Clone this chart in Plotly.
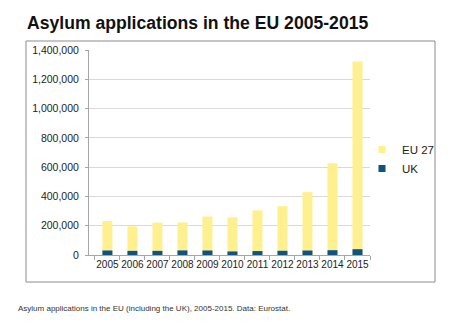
import plotly.graph_objects as go

years = ["2005", "2006", "2007", "2008", "2009", "2010", "2011", "2012", "2013", "2014", "2015"]
eu27 = [232000, 196000, 221000, 222000, 263000, 257000, 305000, 333000, 429000, 626000, 1322000]
uk = [30800, 28300, 28300, 31300, 30700, 24400, 26900, 28800, 30600, 32800, 39700]
series_names = ["EU 27", "UK"]
series_colors = ["#FFF08F", "#0F5382"]

W, H = 462, 327
def px(x): return x / W
def py(y): return (H - y) / H

fig = go.Figure()
for name, vals, col in zip(series_names, [eu27, uk], series_colors):
    fig.add_trace(go.Bar(x=years, y=vals, name=name, marker_color=col,
                         marker_line_width=0, showlegend=False))
# legend entries with small square markers
for name, col in zip(series_names, series_colors):
    fig.add_trace(go.Scatter(x=[years[0]], y=[None], name=name, mode="markers",
                             marker=dict(symbol="square", size=7, color=col), showlegend=True))

fam = "Liberation Sans, Arial, sans-serif"
fig.update_layout(
    width=W, height=H, margin=dict(l=0, r=0, t=0, b=0, autoexpand=False),
    paper_bgcolor="white", plot_bgcolor="white",
    barmode="overlay", bargap=0.6,
    showlegend=True,
    legend=dict(x=px(362), y=py(159), xanchor="left", yanchor="middle",
                font=dict(family=fam, size=11.5, color="#222"),
                tracegroupgap=0, itemwidth=30, bgcolor="rgba(0,0,0,0)"),
    xaxis=dict(domain=[px(89), px(370)], type="category",
               tickfont=dict(family=fam, size=10, color="#222"), tickangle=0,
               showline=True, linecolor="#A6A6A6", linewidth=1, automargin=False,
               ticks="outside", tickson="boundaries", ticklen=4, tickcolor="#A6A6A6",
               showgrid=False),
    yaxis=dict(domain=[py(255), py(50)], range=[0, 1400000], dtick=200000,
               tickformat=",d", tickfont=dict(family=fam, size=10.5, color="#222"),
               automargin=False, ticklabelstandoff=4,
               showline=True, linecolor="#A6A6A6", linewidth=1,
               ticks="outside", ticklen=3, tickcolor="#A6A6A6",
               gridcolor="#D9D9D9", gridwidth=1, zeroline=False),
    shapes=[dict(type="rect", xref="paper", yref="paper",
                 x0=px(26), x1=px(435), y0=py(282), y1=py(41),
                 line=dict(color="#8C8C8C", width=1), layer="below")],
    annotations=[
        dict(text="<b>Asylum applications in the EU 2005-2015</b>", xref="paper", yref="paper",
             x=px(25), y=py(23), xanchor="left", yanchor="middle", showarrow=False,
             font=dict(family=fam, size=17.6, color="#111")),
        dict(text="Asylum applications in the EU (including the UK), 2005-2015. Data: Eurostat.",
             xref="paper", yref="paper", x=px(16), y=py(308), xanchor="left", yanchor="middle",
             showarrow=False, font=dict(family=fam, size=8, color="#333")),
    ],
)
fig.write_html("out.html", post_script="document.body.style.margin='0';")
